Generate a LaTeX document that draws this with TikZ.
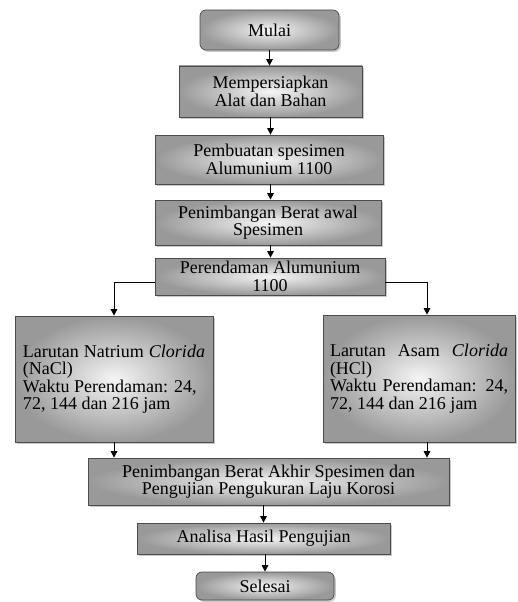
\documentclass[tikz,border=0pt]{standalone}
\usepackage{fontspec}
\setmainfont{Liberation Serif}
\usetikzlibrary{shadows,arrows.meta}

\tikzset{
	proses/.style={draw=gray!60!black, line width=0.7pt, inner color=gray!8, outer color=gray!80,
		drop shadow={shadow xshift=1.8pt, shadow yshift=-1.8pt, fill=gray!60, opacity=0.7},
		font=\fontsize{18}{17.5}\selectfont, align=center},
	terminal/.style={proses, rounded corners=6pt},
	larutan/.style={proses, align=justify},
	panah/.style={-{Triangle[length=6.5pt, width=6.5pt]}, line width=0.9pt}
}

\begin{document}
\begin{tikzpicture}[x=1pt, y=-1pt]
\useasboundingbox (0,0) rectangle (517,602);

\pgfmathsetmacro{\geserKanan}{8}
\pgfmathsetmacro{\geserCabang}{6}

\node[terminal, minimum width=139pt, minimum height=40pt] (mulai) at (269.5,30) {Mulai};
\node[proses, minimum width=183pt, minimum height=51pt] (siap) at (270.5,91.5) {Mempersiapkan\\Alat dan Bahan};
\node[proses, minimum width=228pt, minimum height=49pt] (buat) at (269,159.5) {Pembuatan spesimen\\Alumunium 1100};
\node[proses, minimum width=226pt, minimum height=45pt] (timbangawal) at (268,222.5) {Penimbangan Berat awal\\Spesimen};
\node[proses, minimum width=230pt, minimum height=37pt] (rendam) at (270,276.5) {Perendaman Alumunium\\1100};

\node[larutan, minimum width=198pt, minimum height=126pt, text width=182pt] (nacl) at (114,379)
	{Larutan Natrium \textit{Clorida}\linebreak (NaCl)\\Waktu Perendaman: 24,\\72, 144 dan 216 jam};
\node[larutan, minimum width=192pt, minimum height=127pt, text width=178pt] (hcl) at (419,378.5)
	{Larutan Asam \textit{Clorida}\linebreak (HCl)\\Waktu Perendaman: 24,\linebreak 72, 144 dan 216 jam};

\node[proses, minimum width=361pt, minimum height=47pt] (timbangakhir) at (268.5,481.5) {Penimbangan Berat Akhir Spesimen dan\\Pengujian Pengukuran Laju Korosi};
\node[proses, minimum width=253pt, minimum height=31pt] (analisa) at (263.5,538.5) {Analisa Hasil Pengujian};
\node[terminal, minimum width=138pt, minimum height=28pt] (selesai) at (265,586) {Selesai};

\draw[panah] (mulai.south) -- (mulai.south |- siap.north);
\draw[panah] (siap.south) -- (siap.south |- buat.north);
\draw[panah] (siap.south |- buat.south) -- (siap.south |- timbangawal.north);
\draw[panah] (siap.south |- timbangawal.south) -- (siap.south |- rendam.north);

\draw[panah] ([yshift=-\geserCabang pt]rendam.west) -| (nacl.north);
\draw[panah] ([yshift=-\geserCabang pt]rendam.east) -| ([xshift=\geserKanan pt]hcl.north);
\draw[panah] (nacl.south) -- (nacl.south |- timbangakhir.north);
\draw[panah] ([xshift=\geserKanan pt]hcl.south) -- ([xshift=\geserKanan pt]hcl.south |- timbangakhir.north);

\draw[panah] (analisa.north |- timbangakhir.south) -- (analisa.north);
\draw[panah] (selesai.north |- analisa.south) -- (selesai.north);
\end{tikzpicture}
\end{document}
